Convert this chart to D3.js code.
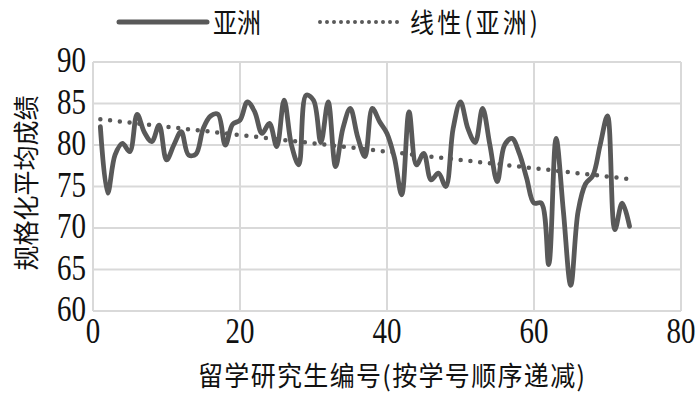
<!DOCTYPE html>
<html>
<head>
<meta charset="utf-8">
<script src="https://cdn.jsdelivr.net/npm/d3@7"></script>
<style>
  body { margin: 0; background: #fff; }
  svg { display: block; }
</style>
</head>
<body>
<script>
// scores, student 1..73
var scores = [82.2, 74.2, 78.8, 80.2, 79.2, 83.7, 81.5, 80.4, 82.4, 78.2,
              80.0, 81.6, 78.8, 78.9, 82.0, 83.5, 83.7, 80.0, 82.5, 83.0,
              85.2, 84.0, 81.4, 82.6, 79.8, 85.4, 80.0, 77.6, 86.0, 85.4,
              80.3, 85.2, 77.4, 82.0, 84.4, 81.0, 78.6, 84.4, 82.8, 81.4,
              78.5, 74.0, 84.0, 77.6, 79.0, 75.8, 76.6, 75.0, 82.0, 85.2,
              82.0, 80.3, 84.4, 80.0, 75.6, 80.0, 80.8, 79.0, 76.0, 73.0,
              73.0, 65.6, 80.8, 72.0, 63.1, 72.0, 75.3, 76.3, 80.0, 83.5,
              69.8, 73.0, 70.2];
// linear trendline ends (student 1 and 73)
var trendX = [1, 73];
var trendY = [83.1, 75.9];
var xTicks = [0, 20, 40, 60, 80];
var yTicks = [60, 65, 70, 75, 80, 85, 90];
var seriesName = "亚洲";
var trendName = "线性(亚洲)";
var xTitle = "留学研究生编号(按学号顺序递减)";
var yTitle = "规格化平均成绩";

var W = 700, H = 396;
var svg = d3.select("body").append("svg")
            .attr("width", W)
            .attr("height", H);

var x = d3.scaleLinear().domain([0, 80]).range([93, 681]);
var y = d3.scaleLinear().domain([60, 90]).range([311, 62]);

var pts = scores.map(function(v, i){ return [i + 1, v]; });
var trend = trendX.map(function(v, i){ return [v, trendY[i]]; });

var gridColor = "#d9d9d9";
var lineColor = "#595959";
var serif = "'Liberation Serif', 'Times New Roman', serif";
var cjk = "'Noto Sans CJK SC', sans-serif";

// grid
svg.append("g").selectAll("line.h")
   .data(yTicks).enter().append("line")
   .attr("x1", x(0)).attr("x2", x(80))
   .attr("y1", function(d){ return y(d); })
   .attr("y2", function(d){ return y(d); })
   .attr("stroke", gridColor).attr("stroke-width", 2);

svg.append("g").selectAll("line.v")
   .data(xTicks).enter().append("line")
   .attr("y1", y(60)).attr("y2", y(90))
   .attr("x1", function(d){ return x(d); })
   .attr("x2", function(d){ return x(d); })
   .attr("stroke", gridColor).attr("stroke-width", 2);

// tick labels, stretched a bit vertically like the scan
svg.append("g").selectAll("text")
   .data(yTicks).enter().append("text")
   .attr("transform", function(d){ return "translate(86," + (y(d) + 10) + ") scale(1,1.22)"; })
   .attr("text-anchor", "end")
   .attr("font-family", serif)
   .attr("font-size", 29)
   .attr("fill", "#111")
   .text(function(d){ return d; });

svg.append("g").selectAll("text")
   .data(xTicks).enter().append("text")
   .attr("transform", function(d){ return "translate(" + x(d) + ",343) scale(1,1.22)"; })
   .attr("text-anchor", "middle")
   .attr("font-family", serif)
   .attr("font-size", 29)
   .attr("fill", "#111")
   .text(function(d){ return d; });

// axis titles
svg.append("text")
   .attr("transform", "translate(198,386) scale(1,1.08)")
   .attr("font-family", cjk)
   .attr("font-size", 25)
   .attr("fill", "#111")
   .attr("textLength", 387)
   .attr("lengthAdjust", "spacing")
   .text(xTitle);

svg.append("text")
   .attr("transform", "translate(36,183) rotate(-90) scale(1,1.05)")
   .attr("text-anchor", "middle")
   .attr("font-family", cjk)
   .attr("font-size", 25)
   .attr("fill", "#111")
   .text(yTitle);

// data line
var line = d3.line()
             .x(function(d){ return x(d[0]); })
             .y(function(d){ return y(d[1]); })
             .curve(d3.curveCatmullRom.alpha(0.5));

svg.append("path")
   .datum(pts)
   .attr("d", line)
   .attr("fill", "none")
   .attr("stroke", lineColor)
   .attr("stroke-width", 4.8)
   .attr("stroke-linejoin", "round")
   .attr("stroke-linecap", "round");

// trend line
svg.append("path")
   .datum(trend)
   .attr("d", d3.line().x(function(d){ return x(d[0]); }).y(function(d){ return y(d[1]); }))
   .attr("fill", "none")
   .attr("stroke", lineColor)
   .attr("stroke-width", 4.5)
   .attr("stroke-linecap", "round")
   .attr("stroke-dasharray", "0 9.8");

// legend
var lg = svg.append("g");
lg.append("line")
  .attr("x1", 119).attr("x2", 207).attr("y1", 22).attr("y2", 22)
  .attr("stroke", lineColor).attr("stroke-width", 5).attr("stroke-linecap", "round");
lg.append("text")
  .attr("transform", "translate(213,33) scale(1,1.15)")
  .attr("font-family", cjk).attr("font-size", 24).attr("fill", "#111")
  .text(seriesName);
lg.append("line")
  .attr("x1", 320).attr("x2", 400).attr("y1", 22).attr("y2", 22)
  .attr("stroke", lineColor).attr("stroke-width", 4).attr("stroke-linecap", "round")
  .attr("stroke-dasharray", "0 7");
lg.append("text")
  .attr("transform", "translate(410,33) scale(1,1.15)")
  .attr("font-family", cjk).attr("font-size", 24).attr("fill", "#111")
  .attr("textLength", 128)
  .attr("lengthAdjust", "spacing")
  .text(trendName);
</script>
</body>
</html>
